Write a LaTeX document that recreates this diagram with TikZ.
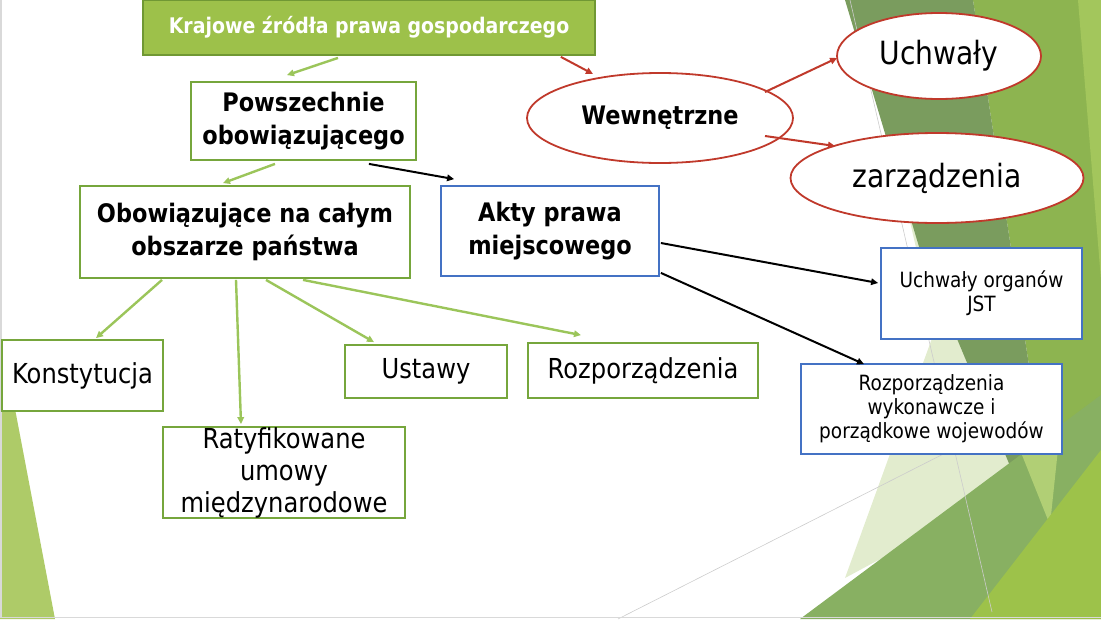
\documentclass[tikz,border=0pt]{standalone}
\usepackage{fontspec}
\setmainfont{DejaVu Sans}[FakeStretch=0.88]
\usetikzlibrary{arrows.meta,shapes.geometric}

\definecolor{boxgreen}{RGB}{118,166,60}
\definecolor{titlefill}{RGB}{157,193,74}
\definecolor{titledraw}{RGB}{112,152,52}
\definecolor{boxblue}{RGB}{68,114,196}
\definecolor{ovalred}{RGB}{192,57,43}
\definecolor{arrowgreen}{RGB}{155,197,90}
\definecolor{olive}{RGB}{122,156,94}
\definecolor{leafgreen}{RGB}{141,180,80}
\definecolor{limegreen}{RGB}{163,198,92}
\definecolor{palegreen}{RGB}{226,236,206}
\definecolor{midgreen}{RGB}{136,176,98}
\definecolor{brightgreen}{RGB}{157,194,74}
\definecolor{cornergreen}{RGB}{174,203,104}

\tikzset{
  titlebox/.style={draw=titledraw, line width=1.8pt, fill=titlefill, text=white, inner sep=0pt,
    font=\bfseries\fontsize{21.5}{26}\selectfont},
  greenbox/.style={draw=boxgreen, line width=1.8pt, fill=white, inner sep=0pt, align=center},
  bluebox/.style={draw=boxblue, line width=1.8pt, fill=white, inner sep=0pt, align=center},
  redoval/.style={ellipse, draw=ovalred, line width=1.8pt, fill=white, inner sep=0pt},
  boldtext/.style={font=\bfseries\fontsize{25.5}{33}\selectfont},
  plaintext/.style={font=\fontsize{27.5}{32}\selectfont},
  smalltext/.style={font=\fontsize{21}{24}\selectfont},
  ovaltext/.style={font=\fontsize{32}{36}\selectfont},
  garrow/.style={draw=arrowgreen, line width=2.4pt, -{Triangle[length=7pt,width=6.5pt]}},
  barrow/.style={draw=black, line width=2pt, -{Triangle[length=7pt,width=6.5pt]}},
  rarrow/.style={draw=ovalred, line width=2pt, -{Triangle[length=7pt,width=6.5pt]}},
}

\begin{document}
\begin{tikzpicture}[x=1pt, y=-1pt]
  \useasboundingbox (0,0) rectangle (1101,619);

  % background facets
  \fill[cornergreen] (0,330) -- (55,619) -- (0,619) -- cycle;
  \fill[leafgreen] (973,0) -- (1101,0) -- (1101,619) -- (1045,470) -- cycle;
  \fill[limegreen] (1078,0) -- (1101,0) -- (1101,280) -- cycle;
  \fill[palegreen] (905,200) -- (1018,485) -- (845,578) -- (935,330) -- cycle;
  \fill[olive] (845,0) -- (973,0) -- (1045,470) -- (1018,485) -- (920,250) -- cycle;
  \fill[midgreen] (800,619) -- (1101,395) -- (1101,619) -- cycle;
  \fill[limegreen!85!white] (1022,455) -- (1060,430) -- (1050,525) -- cycle;
  \fill[brightgreen] (970,619) -- (1101,450) -- (1101,619) -- cycle;
  \draw[gray!40, line width=0.6pt] (850,0) -- (992,612);
  \draw[gray!40, line width=0.6pt] (618,619) -- (1040,405);
  \draw[gray!30, line width=1.5pt] (0.75,0) -- (0.75,617.5) -- (1101,617.5);

  \node[titlebox, minimum width=452pt, minimum height=55pt] (title) at (369,27.5) {Krajowe źródła prawa gospodarczego};

  \node[greenbox, boldtext, minimum width=225pt, minimum height=78pt] (pow) at (303.5,121) {Powszechnie\\obowiązującego};
  \node[greenbox, boldtext, minimum width=330pt, minimum height=92pt] (obw) at (245,232) {Obowiązujące na całym\\obszarze państwa};
  \node[bluebox, boldtext, minimum width=218pt, minimum height=90pt] (akty) at (550,231) {Akty prawa\\miejscowego};

  \node[greenbox, plaintext, minimum width=161pt, minimum height=71pt] (konst) at (82.5,375.5) {Konstytucja};
  \node[greenbox, plaintext, minimum width=242pt, minimum height=91pt] (ratyf) at (284,472.5) {Ratyfikowane\\umowy\\międzynarodowe};
  \node[greenbox, plaintext, minimum width=162pt, minimum height=53pt] (ustawy) at (426,371.5) {Ustawy};
  \node[greenbox, plaintext, minimum width=230pt, minimum height=55pt] (rozp) at (643,370.5) {Rozporządzenia};

  \node[redoval, boldtext, minimum width=266pt, minimum height=90pt] (wew) at (660,118) {Wewnętrzne};
  \node[redoval, ovaltext, minimum width=204pt, minimum height=86pt] (uchw) at (939,56) {Uchwały};
  \node[redoval, ovaltext, minimum width=293pt, minimum height=90pt] (zarz) at (937,178) {zarządzenia};

  \node[bluebox, smalltext, minimum width=201pt, minimum height=91pt] (uorg) at (981.5,293.5) {Uchwały organów\\JST};
  \node[bluebox, smalltext, minimum width=261pt, minimum height=90pt] (rwyk) at (931.5,409) {Rozporządzenia\\wykonawcze i\\porządkowe wojewodów};

  \draw[garrow] ([xshift=-31pt,yshift=-2pt]title.south) -- ([xshift=-16.5pt,yshift=6pt]pow.north);
  \draw[garrow] ([xshift=-28.5pt,yshift=-3pt]pow.south) -- ([xshift=-22pt,yshift=2pt]obw.north);
  \draw[garrow] ([xshift=-83pt,yshift=-1pt]obw.south) -- ([xshift=13.5pt,yshift=1pt]konst.north);
  \draw[garrow] ([xshift=-9pt,yshift=-1pt]obw.south) -- ([xshift=-43pt,yshift=2pt]ratyf.north);
  \draw[garrow] ([xshift=21pt,yshift=-1pt]obw.south) -- ([xshift=-52pt,yshift=2pt]ustawy.north);
  \draw[garrow] ([xshift=58pt,yshift=-1pt]obw.south) -- ([xshift=-62pt,yshift=7pt]rozp.north);

  \draw[barrow] ([xshift=-48pt,yshift=-3pt]pow.south east) -- ([xshift=14pt,yshift=6pt]akty.north west);
  \draw[barrow] ([xshift=1pt,yshift=-12pt]akty.east) -- ([xshift=-2pt,yshift=10.5pt]uorg.west);
  \draw[barrow] ([xshift=1pt,yshift=4pt]akty.south east) -- ([xshift=-67.5pt,yshift=-1pt]rwyk.north);

  \draw[rarrow] ([xshift=-35pt,yshift=-1pt]title.south east) -- ([xshift=-67pt,yshift=44pt]wew.center);
  \draw[rarrow] ([xshift=105pt,yshift=26pt]wew.center) -- ([xshift=1pt,yshift=-2pt]uchw.west);
  \draw[rarrow] ([xshift=105pt,yshift=-18pt]wew.center) -- ([xshift=-102pt,yshift=32pt]zarz.center);
\end{tikzpicture}
\end{document}
